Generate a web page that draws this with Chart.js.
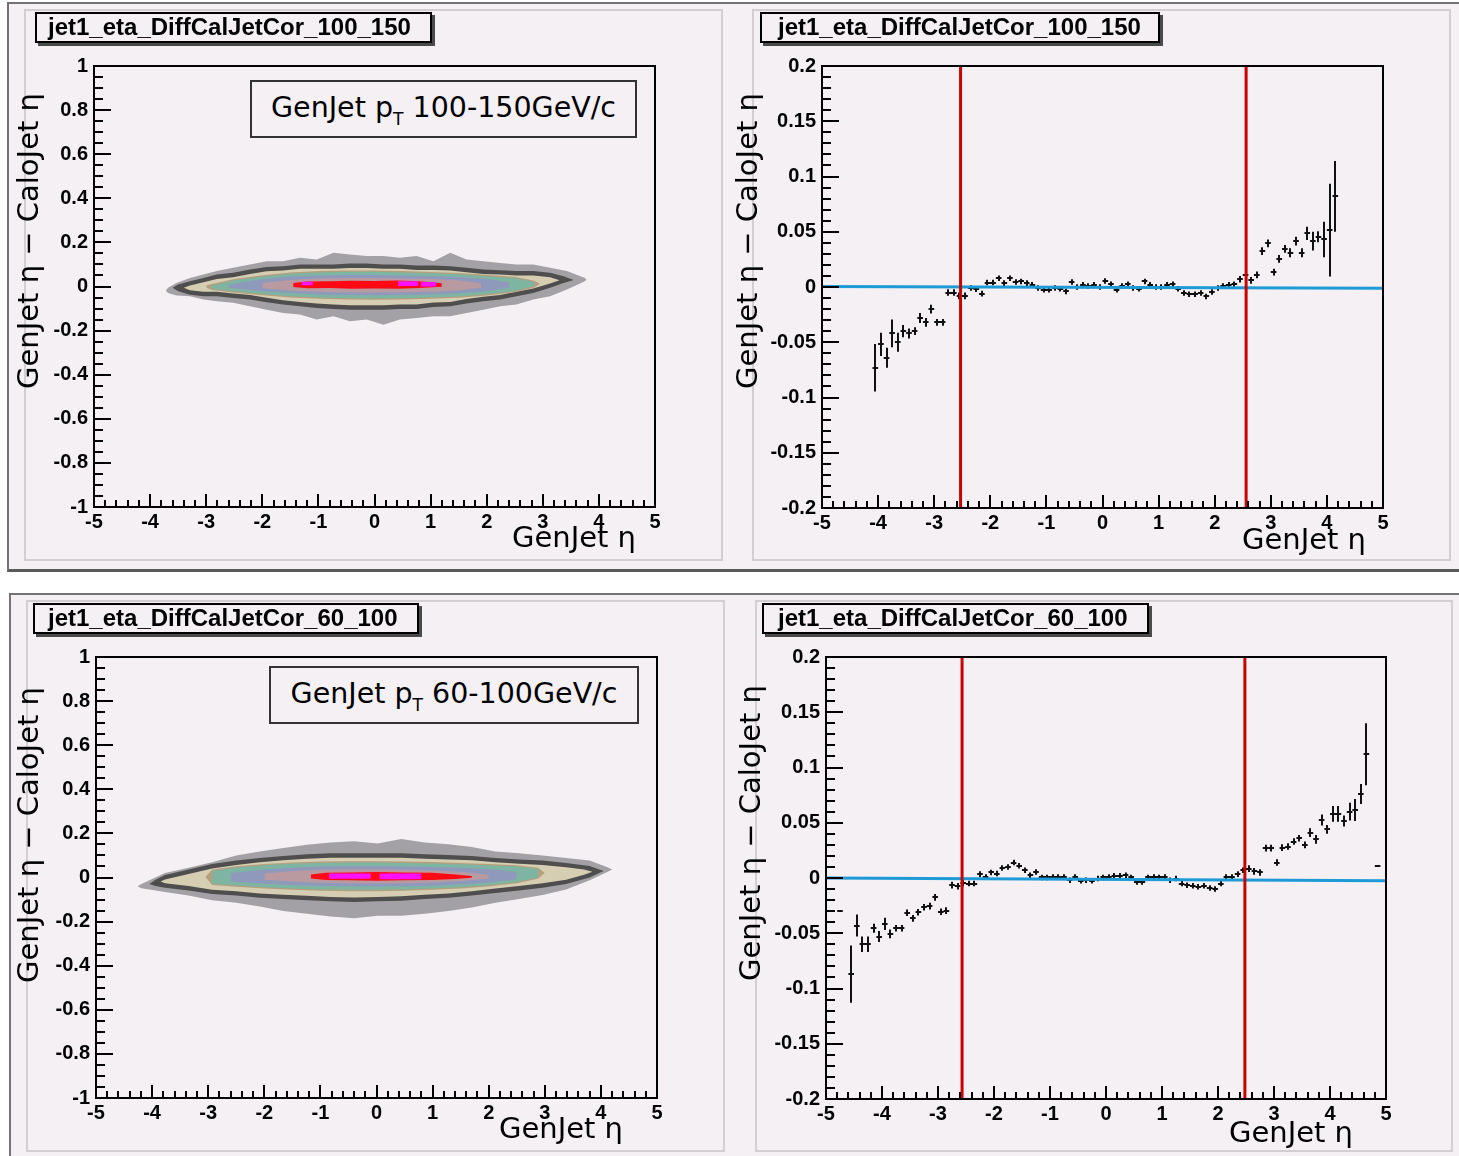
<!DOCTYPE html>
<html>
<head>
<meta charset="utf-8">
<script src="https://cdn.jsdelivr.net/npm/chart.js@4.4.1/dist/chart.umd.min.js"></script>
<style>
  body { margin: 0; width: 1459px; height: 1156px; position: relative; overflow: hidden; background: #fff; }
  .frame { position: absolute; box-sizing: border-box; background: #f4f0f4; }
  .pad { position: absolute; box-sizing: border-box; background: #f4f0f4; border: 2px solid #d2ced2; }
  canvas { position: absolute; }
  .hist { position: absolute; height: 31px; box-sizing: border-box; border: 2px solid #000; box-shadow: 3px 3px 0 #4a4a4a;
          background: #f4f0f4; font: bold 24px "Liberation Sans", Arial, sans-serif; line-height: 26px; white-space: nowrap; color: #000; }
  .pave { position: absolute; height: 58px; box-sizing: border-box; border: 2px solid #333; background: #f4f0f4;
          font: 28.5px "DejaVu Sans", Verdana, sans-serif; line-height: 52px; text-align: center; white-space: nowrap; color: #000; }
  .sub { font-size: 60%; position: relative; top: 8px; }
  .ax { position: absolute; font: 29px "DejaVu Sans", Verdana, sans-serif; line-height: 32px; white-space: nowrap; color: #000; }
  .rot { transform-origin: 0 0; transform: rotate(-90deg); }
</style>
</head>
<body>
<div class="frame" style="left:7px;top:2px;width:1452px;height:570px;border-top:2px solid #737373;border-left:2px solid #737373;border-bottom:3px solid #5a5a5a"></div>
<div class="frame" style="left:9px;top:593px;width:1450px;height:563px;border-top:2px solid #737373;border-left:2px solid #737373"></div>

<div class="pad" style="left:24px;top:9px;width:699px;height:552px"></div>
<div class="pad" style="left:752px;top:9px;width:699px;height:552px"></div>
<div class="pad" style="left:26px;top:600px;width:699px;height:552px"></div>
<div class="pad" style="left:755px;top:600px;width:698px;height:552px"></div>

<canvas id="c2d100" width="698" height="554" style="left:24px;top:8px"></canvas>
<canvas id="prof100" width="698" height="554" style="left:752px;top:8px"></canvas>
<canvas id="c2d60" width="698" height="554" style="left:26px;top:600px"></canvas>
<canvas id="prof60" width="698" height="554" style="left:755px;top:600px"></canvas>

<div class="hist" style="left:35px;top:12px;width:397px;padding-left:11px">jet1_eta_DiffCalJetCor_100_150</div>
<div class="hist" style="left:760px;top:12px;width:400px;padding-left:16px">jet1_eta_DiffCalJetCor_100_150</div>
<div class="hist" style="left:33px;top:603px;width:386px;padding-left:13px">jet1_eta_DiffCalJetCor_60_100</div>
<div class="hist" style="left:762px;top:603px;width:387px;padding-left:14px">jet1_eta_DiffCalJetCor_60_100</div>

<div class="pave" style="left:250px;top:80px;width:387px">GenJet p<span class="sub">T</span> 100-150GeV/c</div>
<div class="pave" style="left:269px;top:666px;width:370px">GenJet p<span class="sub">T</span> 60-100GeV/c</div>

<div class="ax" style="right:823px;top:521px">GenJet η</div>
<div class="ax" style="right:93px;top:523px">GenJet η</div>
<div class="ax" style="right:836px;top:1112px">GenJet η</div>
<div class="ax" style="right:106px;top:1116px">GenJet η</div>
<div class="ax rot" style="left:12px;top:389px">GenJet η − CaloJet η</div>
<div class="ax rot" style="left:731px;top:389px">GenJet η − CaloJet η</div>
<div class="ax rot" style="left:12px;top:983px">GenJet η − CaloJet η</div>
<div class="ax rot" style="left:734px;top:981px">GenJet η − CaloJet η</div>

<script>
// axis ranges
const etaRange = [-5, 5];
const diffRange2d = [-1, 1];
const diffRangeProf = [-0.2, 0.2];

// contour levels of the 2D histogram, pT 100-150: [eta, upper edge, lower edge]
const c100Grey = [
  [-3.72, -0.018, -0.018], [-3.68, -0.006, -0.029], [-3.53, 0.016, -0.041], [-3.29, 0.039, -0.044], [-3.05, 0.054, -0.059],
  [-2.81, 0.070, -0.067], [-2.52, 0.085, -0.074], [-2.22, 0.100, -0.090], [-1.92, 0.115, -0.105], [-1.63, 0.115, -0.120],
  [-1.33, 0.130, -0.127], [-1.03, 0.123, -0.150], [-0.73, 0.153, -0.135], [-0.44, 0.145, -0.158], [-0.14, 0.138, -0.150],
  [0.16, 0.138, -0.173], [0.45, 0.130, -0.150], [0.75, 0.138, -0.143], [1.05, 0.115, -0.135], [1.35, 0.153, -0.135],
  [1.64, 0.123, -0.120], [1.94, 0.115, -0.105], [2.24, 0.107, -0.090], [2.53, 0.100, -0.082], [2.83, 0.100, -0.059],
  [3.13, 0.085, -0.044], [3.43, 0.070, -0.014], [3.75, 0.039, 0.024], [3.78, 0.032, 0.032]
];
const c100Dark = [
  [-3.60, -0.006, -0.006], [-3.50, 0.009, -0.021], [-3.29, 0.024, -0.037], [-3.05, 0.039, -0.044], [-2.81, 0.054, -0.044],
  [-2.52, 0.062, -0.052], [-2.22, 0.077, -0.059], [-1.92, 0.089, -0.071], [-1.63, 0.092, -0.082], [-1.33, 0.100, -0.090],
  [-1.03, 0.100, -0.097], [-0.73, 0.100, -0.102], [-0.44, 0.104, -0.105], [-0.14, 0.104, -0.105], [0.16, 0.100, -0.105],
  [0.45, 0.100, -0.102], [0.75, 0.095, -0.102], [1.05, 0.095, -0.093], [1.35, 0.092, -0.090], [1.64, 0.085, -0.077],
  [1.94, 0.077, -0.067], [2.24, 0.074, -0.059], [2.53, 0.070, -0.044], [2.83, 0.070, -0.029], [3.13, 0.062, -0.006],
  [3.37, 0.047, 0.016], [3.55, 0.030, 0.030]
];
const c100Tan = [
  [-3.40, -0.006, -0.006], [-3.29, 0.004, -0.017], [-3.05, 0.019, -0.024], [-2.81, 0.034, -0.024], [-2.52, 0.042, -0.032],
  [-2.22, 0.057, -0.039], [-1.92, 0.069, -0.051], [-1.63, 0.072, -0.062], [-1.33, 0.080, -0.070], [-1.03, 0.080, -0.077],
  [-0.73, 0.080, -0.082], [-0.44, 0.084, -0.085], [-0.14, 0.084, -0.085], [0.16, 0.080, -0.085], [0.45, 0.080, -0.082],
  [0.75, 0.075, -0.082], [1.05, 0.075, -0.073], [1.35, 0.072, -0.070], [1.64, 0.065, -0.057], [1.94, 0.057, -0.047],
  [2.24, 0.054, -0.039], [2.53, 0.050, -0.024], [2.83, 0.050, -0.009], [3.13, 0.042, 0.014], [3.30, 0.028, 0.028]
];
const c100Brown = [
  [-3.0, 0.004, -0.004], [-2.9, 0.011, -0.016], [-2.5, 0.034, -0.028], [-2.0, 0.051, -0.040], [-1.5, 0.064, -0.050],
  [-1.0, 0.070, -0.056], [-0.5, 0.073, -0.059], [0, 0.073, -0.060], [0.5, 0.070, -0.059], [1.0, 0.066, -0.056],
  [1.5, 0.061, -0.051], [2.0, 0.053, -0.041], [2.5, 0.044, -0.026], [2.85, 0.026, -0.004], [2.95, 0.012, 0.012]
];
const c100Teal = [
  [-2.9, 0.005, -0.010], [-2.5, 0.028, -0.022], [-2.0, 0.045, -0.034], [-1.5, 0.058, -0.044], [-1.0, 0.064, -0.050],
  [-0.5, 0.067, -0.053], [0, 0.067, -0.054], [0.5, 0.064, -0.053], [1.0, 0.060, -0.050], [1.5, 0.055, -0.045],
  [2.0, 0.047, -0.035], [2.5, 0.038, -0.020], [2.85, 0.020, 0.002]
];
const c100Blue = [
  [-2.6, 0.008, -0.006], [-2.0, 0.033, -0.022], [-1.5, 0.045, -0.030], [-1.0, 0.050, -0.036], [-0.5, 0.052, -0.039],
  [0, 0.052, -0.040], [0.5, 0.050, -0.039], [1.0, 0.048, -0.036], [1.5, 0.043, -0.031], [2.0, 0.035, -0.022], [2.4, 0.018, -0.004]
];
const c100Mauve = [
  [-2.0, 0.016, -0.008], [-1.5, 0.030, -0.018], [-1.0, 0.036, -0.024], [-0.5, 0.038, -0.026], [0, 0.038, -0.027],
  [0.5, 0.036, -0.026], [1.0, 0.034, -0.024], [1.5, 0.028, -0.018], [1.9, 0.014, -0.004]
];
const c100Red = [
  [-1.45, 0.016, -0.002], [-1.2, 0.023, -0.008], [-0.8, 0.024, -0.007], [-0.4, 0.026, -0.010], [0, 0.025, -0.009],
  [0.4, 0.027, -0.010], [0.8, 0.024, -0.007], [1.2, 0.015, -0.001]
];
// [eta from, eta to, lower, upper]
const c100Magenta = [[-1.30, -1.10, 0.006, 0.022], [0.42, 0.78, 0.002, 0.024], [0.82, 1.10, 0.000, 0.020]];

// contour levels, pT 60-100
const c60Grey = [
  [-4.26, -0.040, -0.040], [-4.19, -0.030, -0.049], [-3.77, 0.020, -0.066], [-3.35, 0.044, -0.082], [-2.93, 0.069, -0.103],
  [-2.50, 0.100, -0.115], [-2.08, 0.118, -0.131], [-1.66, 0.134, -0.152], [-1.24, 0.148, -0.164], [-0.82, 0.159, -0.177],
  [-0.40, 0.164, -0.185], [0.02, 0.154, -0.174], [0.44, 0.175, -0.174], [0.86, 0.159, -0.164], [1.28, 0.151, -0.152],
  [1.70, 0.138, -0.136], [2.12, 0.118, -0.115], [2.54, 0.110, -0.098], [2.96, 0.100, -0.079], [3.38, 0.089, -0.054],
  [3.80, 0.077, -0.013], [4.14, 0.044, 0.028], [4.20, 0.036, 0.036]
];
const c60Dark = [
  [-4.05, -0.030, -0.030], [-3.94, -0.010, -0.038], [-3.77, 0.011, -0.046], [-3.35, 0.036, -0.059], [-2.93, 0.061, -0.075],
  [-2.50, 0.077, -0.082], [-2.08, 0.089, -0.092], [-1.66, 0.098, -0.098], [-1.24, 0.105, -0.103], [-0.82, 0.110, -0.108],
  [-0.40, 0.110, -0.111], [0.02, 0.110, -0.108], [0.44, 0.110, -0.105], [0.86, 0.105, -0.098], [1.28, 0.102, -0.092],
  [1.70, 0.098, -0.082], [2.12, 0.089, -0.070], [2.54, 0.082, -0.059], [2.96, 0.077, -0.046], [3.38, 0.066, -0.030],
  [3.80, 0.052, 0.000], [3.97, 0.036, 0.020], [4.05, 0.030, 0.030]
];
const c60Tan = [
  [-3.85, -0.018, -0.018], [-3.77, -0.009, -0.026], [-3.35, 0.016, -0.039], [-2.93, 0.041, -0.055], [-2.50, 0.057, -0.062],
  [-2.08, 0.069, -0.072], [-1.66, 0.078, -0.078], [-1.24, 0.085, -0.083], [-0.82, 0.090, -0.088], [-0.40, 0.090, -0.091],
  [0.02, 0.090, -0.088], [0.44, 0.090, -0.085], [0.86, 0.085, -0.078], [1.28, 0.082, -0.072], [1.70, 0.078, -0.062],
  [2.12, 0.069, -0.050], [2.54, 0.062, -0.039], [2.96, 0.057, -0.026], [3.38, 0.046, -0.010], [3.70, 0.036, 0.012],
  [3.85, 0.026, 0.026]
];
const c60Brown = [
  [-3.05, 0.002, 0.002], [-2.93, 0.036, -0.034], [-2.5, 0.051, -0.042], [-2.0, 0.061, -0.050], [-1.5, 0.068, -0.056],
  [-1.0, 0.072, -0.060], [-0.5, 0.074, -0.062], [0, 0.074, -0.062], [0.5, 0.072, -0.060], [1.0, 0.070, -0.056],
  [1.5, 0.066, -0.050], [2.0, 0.061, -0.041], [2.5, 0.056, -0.026], [2.88, 0.044, -0.006], [3.0, 0.020, 0.020]
];
const c60Teal = [
  [-2.93, 0.030, -0.028], [-2.5, 0.045, -0.036], [-2.0, 0.055, -0.044], [-1.5, 0.062, -0.050], [-1.0, 0.066, -0.054],
  [-0.5, 0.068, -0.056], [0, 0.068, -0.056], [0.5, 0.066, -0.054], [1.0, 0.064, -0.050], [1.5, 0.060, -0.044],
  [2.0, 0.055, -0.035], [2.5, 0.050, -0.020], [2.88, 0.038, 0.000]
];
const c60Blue = [
  [-2.6, 0.020, -0.018], [-2.0, 0.036, -0.028], [-1.5, 0.044, -0.034], [-1.0, 0.050, -0.038], [-0.5, 0.052, -0.040],
  [0, 0.052, -0.041], [0.5, 0.050, -0.040], [1.0, 0.048, -0.037], [1.5, 0.044, -0.032], [2.0, 0.038, -0.024], [2.5, 0.025, -0.008]
];
const c60Mauve = [
  [-2.0, 0.018, -0.010], [-1.5, 0.030, -0.018], [-1.0, 0.035, -0.024], [-0.5, 0.037, -0.026], [0, 0.037, -0.027],
  [0.5, 0.035, -0.026], [1.0, 0.032, -0.023], [1.5, 0.026, -0.016], [2.0, 0.012, -0.004]
];
const c60Red = [
  [-1.17, 0.014, -0.005], [-0.9, 0.021, -0.011], [-0.5, 0.023, -0.013], [0, 0.025, -0.015], [0.5, 0.023, -0.013],
  [1.0, 0.021, -0.011], [1.4, 0.014, -0.007], [1.7, 0.007, -0.001]
];
const c60Magenta = [[-0.85, -0.10, -0.006, 0.018], [0.05, 0.80, -0.008, 0.018]];

// profile, pT 100-150
const prof100Eta = [
  -4.05, -3.95, -3.85, -3.75, -3.65, -3.55, -3.45, -3.35, -3.25, -3.15,
  -3.05, -2.95, -2.85, -2.75, -2.65, -2.55, -2.45, -2.35, -2.25, -2.15,
  -2.05, -1.95, -1.85, -1.75, -1.65, -1.55, -1.45, -1.35, -1.25, -1.15,
  -1.05, -0.95, -0.85, -0.75, -0.65, -0.55, -0.45, -0.35, -0.25, -0.15,
  -0.05, 0.05, 0.15, 0.25, 0.35, 0.45, 0.55, 0.65, 0.75, 0.85,
  0.95, 1.05, 1.15, 1.25, 1.35, 1.45, 1.55, 1.65, 1.75, 1.85,
  1.95, 2.05, 2.15, 2.25, 2.35, 2.45, 2.55, 2.65, 2.75, 2.85,
  2.95, 3.05, 3.15, 3.25, 3.35, 3.45, 3.55, 3.65, 3.75, 3.85,
  3.95, 4.05, 4.15
];
const prof100Mean = [
  -0.073, -0.052, -0.064, -0.042, -0.050, -0.040, -0.042, -0.040, -0.028, -0.032,
  -0.020, -0.032, -0.032, -0.005, -0.005, -0.008, -0.008, -0.001, -0.002, -0.006,
  0.004, 0.004, 0.008, 0.0035, 0.008, 0.0045, 0.005, 0.0035, 0.002, -0.001,
  -0.0025, -0.0025, -0.001, -0.0015, -0.004, 0.0045, 0.0, 0.002, 0.001, 0.002,
  0.0, 0.0055, 0.0025, -0.0025, 0.001, 0.0025, -0.001, -0.0015, 0.005, 0.002,
  0.0, 0.0, 0.002, 0.0025, -0.0015, -0.0055, -0.0065, -0.0065, -0.0055, -0.0085,
  -0.0045, -0.001, 0.001, 0.002, 0.0025, 0.007, 0.0105, 0.006, 0.011, 0.0325,
  0.0395, 0.0135, 0.0255, 0.0345, 0.031, 0.0415, 0.031, 0.0485, 0.0415, 0.0455,
  0.043, 0.0515, 0.082
];
const prof100Err = [
  0.0215, 0.0105, 0.009, 0.0125, 0.0085, 0.0055, 0.0045, 0.0035, 0.0045, 0.004,
  0.004, 0.003, 0.003, 0.003, 0.003, 0.003, 0.003, 0.0025, 0.0025, 0.0025,
  0.0025, 0.0025, 0.0025, 0.0025, 0.0025, 0.0025, 0.0025, 0.0025, 0.0025, 0.0025,
  0.0025, 0.0025, 0.0025, 0.0025, 0.0025, 0.0025, 0.0025, 0.0025, 0.0025, 0.0025,
  0.0025, 0.0025, 0.0025, 0.0025, 0.0025, 0.0025, 0.0025, 0.0025, 0.0025, 0.0025,
  0.0025, 0.0025, 0.0025, 0.0025, 0.0025, 0.0025, 0.0025, 0.0025, 0.0025, 0.0025,
  0.0025, 0.0025, 0.0025, 0.0025, 0.0025, 0.003, 0.003, 0.003, 0.003, 0.0035,
  0.0035, 0.003, 0.0035, 0.0035, 0.004, 0.004, 0.004, 0.006, 0.0085, 0.005,
  0.016, 0.042, 0.032
];
const cut100 = [-2.53, 2.56];
const fit100 = [0.0005, -0.0012];   // fit line at eta -5 and 5

// profile, pT 60-100
const prof60Eta = [
  -4.75, -4.55, -4.45, -4.35, -4.25, -4.15, -4.05, -3.95, -3.85, -3.75,
  -3.65, -3.55, -3.45, -3.35, -3.25, -3.15, -3.05, -2.95, -2.85, -2.75,
  -2.65, -2.55, -2.45, -2.35, -2.25, -2.15, -2.05, -1.95, -1.85, -1.75,
  -1.65, -1.55, -1.45, -1.35, -1.25, -1.15, -1.05, -0.95, -0.85, -0.75,
  -0.65, -0.55, -0.45, -0.35, -0.25, -0.15, -0.05, 0.05, 0.15, 0.25,
  0.35, 0.45, 0.55, 0.65, 0.75, 0.85, 0.95, 1.05, 1.15, 1.25,
  1.35, 1.45, 1.55, 1.65, 1.75, 1.85, 1.95, 2.05, 2.15, 2.25,
  2.35, 2.45, 2.55, 2.65, 2.75, 2.85, 2.95, 3.05, 3.15, 3.25,
  3.35, 3.45, 3.55, 3.65, 3.75, 3.85, 3.95, 4.05, 4.15, 4.25,
  4.35, 4.45, 4.55, 4.65, 4.85
];
const prof60Mean = [
  -0.030, -0.087, -0.043, -0.060, -0.060, -0.0455, -0.053, -0.0415, -0.0505, -0.0455,
  -0.0455, -0.0315, -0.0365, -0.031, -0.0265, -0.0255, -0.0175, -0.0305, -0.0295, -0.0065,
  -0.0075, -0.0045, -0.005, -0.005, 0.0035, 0.001, 0.005, 0.004, 0.009, 0.010,
  0.014, 0.011, 0.007, 0.0025, 0.0055, 0.0005, 0.0005, 0.001, 0.001, 0.001,
  -0.002, 0.001, -0.0025, -0.002, -0.0025, -0.0005, 0.0005, 0.001, 0.002, 0.002,
  0.0025, 0.0005, -0.0035, -0.0035, 0.0005, 0.001, 0.0005, 0.001, -0.002, -0.0005,
  -0.005, -0.0065, -0.007, -0.008, -0.007, -0.009, -0.010, -0.005, 0.001, 0.001,
  0.0035, 0.007, 0.0085, 0.006, 0.005, 0.027, 0.027, 0.014, 0.0275, 0.0285,
  0.033, 0.036, 0.030, 0.041, 0.035, 0.0525, 0.044, 0.058, 0.058, 0.0515,
  0.060, 0.0615, 0.076, 0.112, 0.011
];
const prof60Err = [
  0, 0.026, 0.010, 0.007, 0.007, 0.004, 0.005, 0.0055, 0.004, 0.003,
  0.003, 0.003, 0.003, 0.003, 0.003, 0.003, 0.003, 0.003, 0.003, 0.003,
  0.003, 0.003, 0.0025, 0.0025, 0.0025, 0.0025, 0.0025, 0.0025, 0.0025, 0.0025,
  0.0025, 0.0025, 0.0025, 0.0025, 0.0025, 0.0025, 0.0025, 0.0025, 0.0025, 0.0025,
  0.0025, 0.0025, 0.0025, 0.0025, 0.0025, 0.0025, 0.0025, 0.0025, 0.0025, 0.0025,
  0.0025, 0.0025, 0.0025, 0.0025, 0.0025, 0.0025, 0.0025, 0.0025, 0.0025, 0.0025,
  0.0025, 0.0025, 0.0025, 0.0025, 0.0025, 0.0025, 0.0025, 0.0025, 0.0025, 0.0025,
  0.0025, 0.0025, 0.003, 0.003, 0.003, 0.003, 0.003, 0.003, 0.003, 0.003,
  0.003, 0.003, 0.003, 0.004, 0.004, 0.005, 0.004, 0.0072, 0.0072, 0.005,
  0.008, 0.010, 0.009, 0.028, 0
];
const cut60 = [-2.57, 2.48];
const fit60 = [0.0, -0.0024];

const FONT = '"Liberation Sans", Arial, Helvetica, sans-serif';
const colors = {
  grey: '#a3a1a5', dark: '#4e4e4e', tan: '#d6ceb3', brown: '#b4a07e', teal: '#7db5a2',
  blue: '#8f99bb', mauve: '#b99aa0', red: '#ff0a14', magenta: '#ff10ff'
};

function fmt(v) {
  return String(Math.round(v * 1000) / 1000);
}

// ROOT style frame with ticks pointing inside
const rootAxes = {
  id: 'rootAxes',
  afterDatasetsDraw(chart, args, opts) {
    const { ctx, chartArea: a, scales: { x, y } } = chart;
    ctx.save();
    ctx.strokeStyle = '#000';
    ctx.lineWidth = 2;
    ctx.strokeRect(Math.round(a.left), Math.round(a.top), Math.round(a.right - a.left), Math.round(a.bottom - a.top));
    ctx.beginPath();
    const nx = Math.round((x.max - x.min) / opts.xMinor);
    for (let i = 0; i <= nx; i++) {
      const v = x.min + i * opts.xMinor;
      const px = Math.round(x.getPixelForValue(v));
      const major = i % opts.xPer === 0;
      ctx.moveTo(px, a.bottom);
      ctx.lineTo(px, a.bottom - (major ? 13 : 7));
    }
    const ny = Math.round((y.max - y.min) / opts.yMinor);
    for (let i = 0; i <= ny; i++) {
      const v = y.min + i * opts.yMinor;
      const py = Math.round(y.getPixelForValue(v));
      const major = i % opts.yPer === 0;
      ctx.moveTo(a.left, py);
      ctx.lineTo(a.left + (major ? 17 : 9), py);
    }
    ctx.stroke();
    ctx.restore();
  }
};

// profile markers: bin-width horizontal bar plus vertical error bar
const errorCross = {
  id: 'errorCross',
  afterDatasetDraw(chart, args) {
    const ds = chart.data.datasets[args.index];
    if (!ds.errors) return;
    const { ctx, chartArea: a, scales: { x, y } } = chart;
    ctx.save();
    ctx.beginPath();
    ctx.rect(a.left, a.top, a.right - a.left, a.bottom - a.top);
    ctx.clip();
    ctx.strokeStyle = '#111';
    ctx.lineWidth = 2;
    ctx.beginPath();
    ds.data.forEach((p, i) => {
      const px = Math.round(x.getPixelForValue(p.x));
      const py = Math.round(y.getPixelForValue(p.y));
      ctx.moveTo(x.getPixelForValue(p.x - ds.halfBin), py);
      ctx.lineTo(x.getPixelForValue(p.x + ds.halfBin), py);
      const e = ds.errors[i];
      if (e > 0) {
        ctx.moveTo(px, y.getPixelForValue(p.y + e));
        ctx.lineTo(px, y.getPixelForValue(p.y - e));
      }
    });
    ctx.stroke();
    ctx.restore();
  }
};

function band(rows, color) {
  const base = { borderColor: 'rgba(0,0,0,0)', borderWidth: 0, pointRadius: 0, tension: 0 };
  return [
    { ...base, data: rows.map(r => ({ x: r[0], y: r[1] })), fill: '+1', backgroundColor: color },
    { ...base, data: rows.map(r => ({ x: r[0], y: r[2] })), fill: false }
  ];
}

function patches(list, color) {
  return list.flatMap(p => band([[p[0], p[3], p[2]], [p[1], p[3], p[2]]], color));
}

function scales(yRange, yStep, xHeight, yWidth) {
  const tickFont = { family: FONT, size: 20, weight: 'bold' };
  return {
    x: {
      type: 'linear', min: etaRange[0], max: etaRange[1],
      grid: { display: false, drawTicks: false }, border: { display: false },
      ticks: { stepSize: 1, autoSkip: false, maxRotation: 0, padding: 3, color: '#000', font: tickFont, callback: fmt },
      afterFit: s => { s.height = xHeight; }
    },
    y: {
      type: 'linear', min: yRange[0], max: yRange[1],
      grid: { display: false, drawTicks: false }, border: { display: false },
      ticks: { stepSize: yStep, autoSkip: false, padding: 6, color: '#000', font: tickFont, callback: fmt },
      afterFit: s => { s.width = yWidth; }
    }
  };
}

function baseOptions(padTop, padRight, sc, axesOpts) {
  return {
    responsive: false,
    animation: false,
    events: [],
    layout: { padding: { left: 0, top: padTop, right: padRight, bottom: 0 } },
    scales: sc,
    plugins: { legend: { display: false }, tooltip: { enabled: false }, rootAxes: axesOpts }
  };
}

function contourChart(id, levels, magenta, padTop, xHeight, yWidth) {
  const datasets = [
    ...patches(magenta, colors.magenta),
    ...band(levels.red, colors.red),
    ...band(levels.mauve, colors.mauve),
    ...band(levels.blue, colors.blue),
    ...band(levels.teal, colors.teal),
    ...band(levels.brown, colors.brown),
    ...band(levels.tan, colors.tan),
    ...band(levels.dark, colors.dark),
    ...band(levels.grey, colors.grey)
  ];
  new Chart(document.getElementById(id), {
    type: 'line',
    data: { datasets },
    options: baseOptions(padTop, 67, scales(diffRange2d, 0.2, xHeight, yWidth),
      { xMinor: 0.2, xPer: 5, yMinor: 0.05, yPer: 4 }),
    plugins: [rootAxes]
  });
}

function profileChart(id, eta, mean, err, cut, fit, padTop, xHeight, yWidth) {
  const vline = c => ({
    data: [{ x: c, y: diffRangeProf[0] }, { x: c, y: diffRangeProf[1] }],
    borderColor: '#c80000', borderWidth: 3, pointRadius: 0, fill: false
  });
  const datasets = [
    vline(cut[0]),
    vline(cut[1]),
    {
      data: [{ x: etaRange[0], y: fit[0] }, { x: etaRange[1], y: fit[1] }],
      borderColor: '#1e9bd6', borderWidth: 3, pointRadius: 0, fill: false
    },
    {
      data: eta.map((e, i) => ({ x: e, y: mean[i] })),
      showLine: false, pointRadius: 0, errors: err, halfBin: 0.05
    }
  ];
  new Chart(document.getElementById(id), {
    type: 'line',
    data: { datasets },
    options: baseOptions(padTop, 67, scales(diffRangeProf, 0.05, xHeight, yWidth),
      { xMinor: 0.2, xPer: 5, yMinor: 0.01, yPer: 5 }),
    plugins: [errorCross, rootAxes]
  });
}

contourChart('c2d100', {
  grey: c100Grey, dark: c100Dark, tan: c100Tan, brown: c100Brown, teal: c100Teal,
  blue: c100Blue, mauve: c100Mauve, red: c100Red
}, c100Magenta, 58, 55, 70);

contourChart('c2d60', {
  grey: c60Grey, dark: c60Dark, tan: c60Tan, brown: c60Brown, teal: c60Teal,
  blue: c60Blue, mauve: c60Mauve, red: c60Red
}, c60Magenta, 57, 56, 70);

profileChart('prof100', prof100Eta, prof100Mean, prof100Err, cut100, fit100, 58, 54, 70);
profileChart('prof60', prof60Eta, prof60Mean, prof60Err, cut60, fit60, 57, 55, 71);
</script>
</body>
</html>
